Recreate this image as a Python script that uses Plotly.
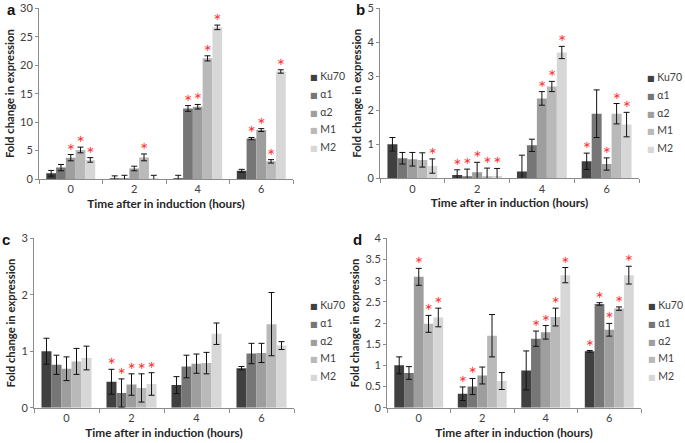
import plotly.graph_objects as go

times = ["0", "2", "4", "6"]
series = ["Ku70", "α1", "α2", "M1", "M2"]
colors = ["#404040", "#767676", "#9e9e9e", "#b9b9b9", "#d7d7d7"]

# Panel a
a_vals = [[1.0, 0.05, 0.1, 1.45], [2.0, 0.05, 12.4, 7.1], [3.75, 1.85, 12.7, 8.6], [5.1, 3.8, 21.2, 3.1], [3.35, 0.05, 26.65, 18.9]]
a_errs = [[0.5, 0.5, 0.55, 0.25], [0.55, 0.6, 0.5, 0.2], [0.55, 0.4, 0.4, 0.25], [0.5, 0.6, 0.45, 0.3], [0.4, 0.6, 0.4, 0.3]]
a_sig = [[0, 0, 0, 0], [0, 0, 1, 1], [1, 0, 1, 1], [1, 1, 1, 1], [1, 0, 1, 1]]

# Panel b
b_vals = [[1.0, 0.1, 0.2, 0.5], [0.59, 0.05, 0.97, 1.9], [0.56, 0.18, 2.35, 0.42], [0.54, 0.03, 2.7, 1.9], [0.36, 0.07, 3.7, 1.58]]
b_errs = [[0.2, 0.15, 0.48, 0.24], [0.17, 0.22, 0.18, 0.7], [0.2, 0.29, 0.2, 0.18], [0.21, 0.27, 0.15, 0.3], [0.21, 0.22, 0.18, 0.36]]
b_sig = [[0, 1, 0, 1], [0, 1, 0, 0], [0, 1, 1, 1], [0, 1, 1, 1], [1, 1, 1, 1]]

# Panel c
c_vals = [[1.0, 0.46, 0.4, 0.7], [0.76, 0.26, 0.73, 0.96], [0.69, 0.41, 0.78, 0.97], [0.82, 0.35, 0.79, 1.48], [0.88, 0.42, 1.31, 1.1]]
c_errs = [[0.23, 0.22, 0.15, 0.03], [0.17, 0.25, 0.2, 0.18], [0.21, 0.19, 0.17, 0.17], [0.23, 0.25, 0.19, 0.56], [0.21, 0.2, 0.19, 0.07]]
c_sig = [[0, 1, 0, 0], [0, 1, 0, 0], [0, 1, 0, 0], [0, 1, 0, 0], [0, 1, 0, 0]]

# Panel d
d_vals = [[1.0, 0.33, 0.88, 1.33], [0.82, 0.5, 1.63, 2.45], [3.09, 0.76, 1.78, 1.84], [1.98, 1.7, 2.14, 2.34], [2.13, 0.63, 3.13, 3.13]]
d_errs = [[0.2, 0.16, 0.46, 0.02], [0.15, 0.19, 0.18, 0.03], [0.2, 0.2, 0.16, 0.15], [0.2, 0.5, 0.21, 0.04], [0.22, 0.2, 0.18, 0.21]]
d_sig = [[0, 1, 0, 1], [0, 1, 1, 1], [1, 0, 1, 1], [1, 0, 1, 1], [1, 0, 1, 1]]

panels = [
    ("a", a_vals, a_errs, a_sig, [0, 30], 5),
    ("b", b_vals, b_errs, b_sig, [0, 5], 1),
    ("c", c_vals, c_errs, c_sig, [0, 3], 1),
    ("d", d_vals, d_errs, d_sig, [0, 4], 0.5),
]

W, H = 685, 443
boxes = [(39, 293, 8.3, 179), (380, 639, 8.3, 178.3), (34, 294, 238.3, 407.7), (387, 641, 238.3, 407.7)]
legend_pos = [(308, 76), (645, 77), (308, 305), (646, 305)]
legend_step = 17.8
label_pos = [(11, 10), (361, 10), (6, 240), (357, 240)]

FONT = "Lato"
fig = go.Figure()

for p, (name, vals, errs, sig, yr, dt) in enumerate(panels):
    sfx = "" if p == 0 else str(p + 1)
    xa, ya = "x" + sfx, "y" + sfx
    for i, s in enumerate(series):
        fig.add_trace(go.Bar(
            x=times, y=vals[i], name=s, marker_color=colors[i], marker_line_width=0,
            error_y=dict(type="data", array=errs[i], color="#111111", thickness=1, width=3),
            xaxis=xa, yaxis=ya, offsetgroup=str(i), showlegend=False, hoverinfo="skip"))
        tops = [v + e if sg else None for v, e, sg in zip(vals[i], errs[i], sig[i])]
        fig.add_trace(go.Bar(
            x=times, y=tops, marker_color="rgba(0,0,0,0)", marker_line_width=0,
            text=["∗" if sg else "" for sg in sig[i]], textposition="outside",
            textfont=dict(color="#ff3030", size=10, family="DejaVu Sans"),
            constraintext="none", cliponaxis=False,
            xaxis=xa, yaxis=ya, offsetgroup=str(i), showlegend=False, hoverinfo="skip"))
        # legend entry (square swatch + label)
        lx, ly = legend_pos[p]
        fig.add_annotation(
            text="<span style='font-family:DejaVu Sans;font-size:8px;color:%s'>■</span> %s" % (colors[i], s),
            x=lx / W, y=(H - (ly + i * legend_step)) / H, xref="paper", yref="paper",
            xanchor="left", yanchor="middle", showarrow=False,
            font=dict(family=FONT, size=10.5, color="#404040"))

    x0, x1, yt, yb = boxes[p]
    fig.layout["xaxis" + sfx] = dict(
        domain=[x0 / W, x1 / W], anchor=ya, type="category", automargin=False,
        showline=True, linecolor="#8c8c8c", linewidth=1,
        ticks="outside", tickson="boundaries", ticklen=4, tickcolor="#8c8c8c",
        tickfont=dict(family=FONT, size=11, color="#404040"),
        title=dict(text="<b>Time after in induction (hours)</b>", standoff=5,
                   font=dict(family=FONT, size=11.8, color="#262626")),
        showgrid=False, fixedrange=True)
    fig.layout["yaxis" + sfx] = dict(
        domain=[(H - yb) / H, (H - yt) / H], anchor=xa, range=yr, dtick=dt, automargin=True,
        showline=True, linecolor="#8c8c8c", linewidth=1,
        ticks="outside", ticklen=3, tickcolor="#8c8c8c",
        tickfont=dict(family=FONT, size=11, color="#404040"),
        title=dict(text="<b>Fold change in expression</b>", standoff=3,
                   font=dict(family=FONT, size=11.3, color="#262626")),
        showgrid=False, zeroline=False, fixedrange=True)
    px_, py_ = label_pos[p]
    fig.add_annotation(text="<b>%s</b>" % name, x=px_ / W, y=(H - py_) / H, xref="paper", yref="paper",
                       showarrow=False, xanchor="center", yanchor="middle",
                       font=dict(family="Arial", size=15, color="#111111"))

fig.update_layout(
    width=W, height=H, margin=dict(l=0, r=0, t=0, b=0, autoexpand=False),
    barmode="group", bargap=0.23, bargroupgap=0, showlegend=False,
    plot_bgcolor="white", paper_bgcolor="white",
)

fig.write_html("out.html", config={"displayModeBar": False},
               post_script="document.body.style.margin='0';document.body.style.padding='0';")
